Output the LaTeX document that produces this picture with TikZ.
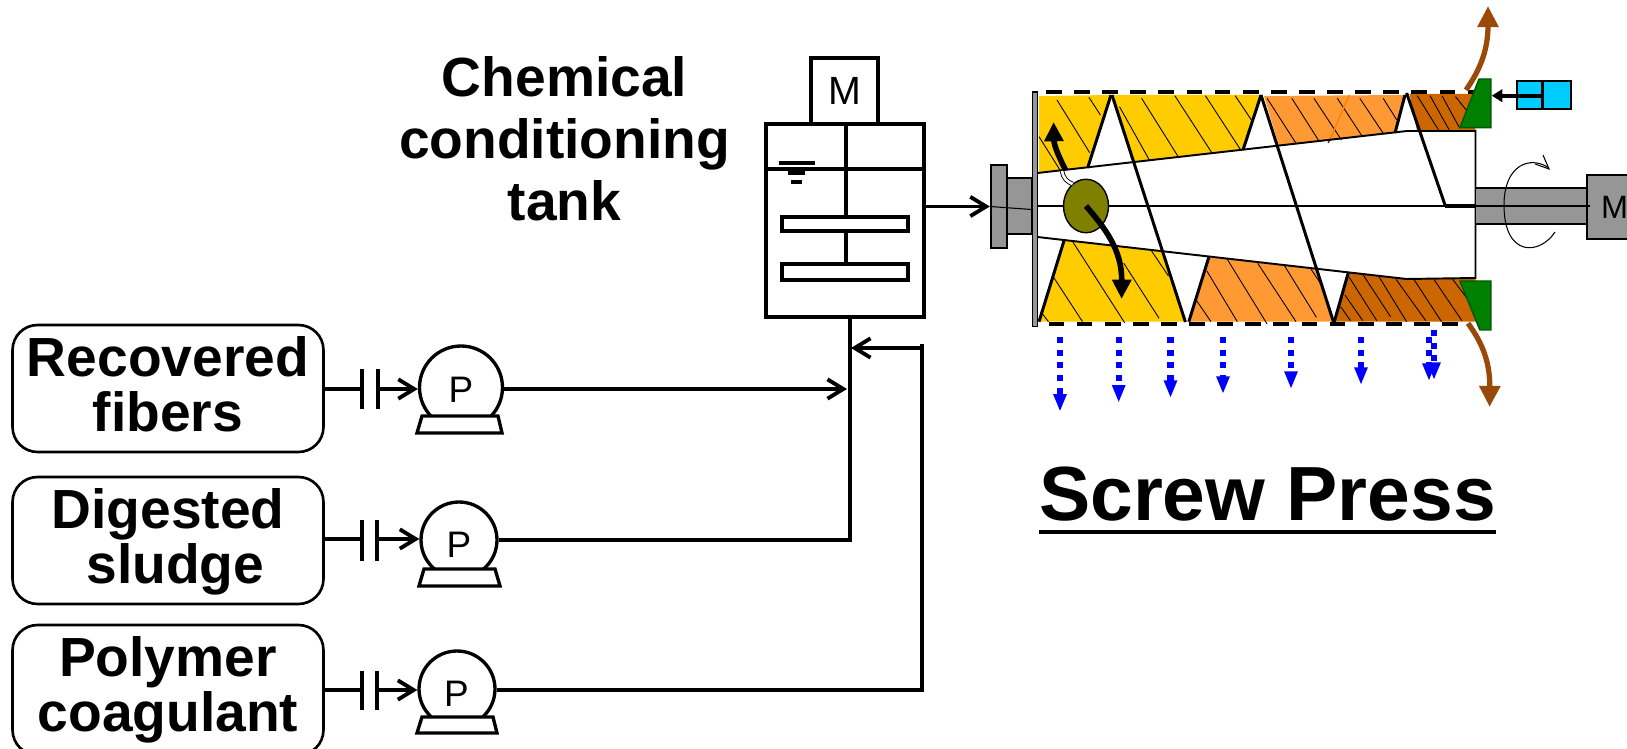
\documentclass[tikz,border=0pt]{standalone}
\usepackage{fontspec}
\setmainfont{Liberation Sans}
\usetikzlibrary{arrows.meta,shapes.geometric}

\definecolor{pressyellow}{HTML}{FFCC00}
\definecolor{pressorange}{HTML}{FF9933}
\definecolor{pressdark}{HTML}{CC6600}
\definecolor{pressgreen}{HTML}{008000}
\definecolor{presscyan}{HTML}{00CCFF}
\definecolor{pressgray}{HTML}{969696}
\definecolor{pressolive}{HTML}{808000}
\definecolor{pressbrown}{HTML}{99490A}

\tikzset{
  feedbox/.style={draw, line width=1.5pt, rounded corners=0.5cm, minimum width=6.22cm, minimum height=2.54cm, inner sep=0pt},
  feedlabel/.style={align=center, inner sep=0pt, font=\fontsize{31.4}{31.2}\selectfont\bfseries},
  pumpbody/.style={draw, circle, line width=1.9pt, inner sep=0pt},
  pumpletter/.style={inner sep=0pt, font=\fontsize{21}{21}\selectfont},
  pipe/.style={line width=2.2pt},
  openarrow/.style={-{Straight Barb[length=9pt,width=11pt,line width=2.2pt]}},
  vessel/.style={draw, line width=2.6pt, inner sep=0pt},
  metal/.style={draw, fill=pressgray, line width=1pt, inner sep=0pt},
  hatchline/.style={line width=0.5pt},
  flight/.style={line width=1.7pt},
  screen/.style={line width=2.3pt, dash pattern=on 9pt off 7pt},
  seep/.style={blue, line width=3.5pt, dash pattern=on 3.4pt off 3.8pt, -{Triangle[length=10pt,width=7pt]}},
  cake/.style={pressbrown, line width=3pt, -{Triangle[length=12pt,width=11.5pt]}},
  thickflow/.style={line width=3.2pt, -{Triangle[length=11pt,width=10.5pt]}}
}

\begin{document}
\begin{tikzpicture}[x=0.02cm, y=-0.02cm]
  \useasboundingbox (0,0) rectangle (1627,749);

  % Feed boxes
  \node[feedbox] (boxA) at (168,388.5) {};
  \node[feedbox] (boxB) at (168,540.5) {};
  \node[feedbox, minimum height=2.6cm] (boxC) at (168,690) {};
  \node[feedlabel] (labelA) at (168,384.3) {Recovered\\fibers};
  \node[feedlabel] (labelB) at (168,542) {Digested\\\hspace{0.29cm}sludge};
  \node[feedlabel] (labelC) at (168,690) {Polymer\\coagulant};

  % Pumps
  \node[pumpbody, minimum size=1.66cm] (pumpA) at (461,387.5) {};
  \node[pumpbody, minimum size=1.52cm] (pumpB) at (459,540) {};
  \node[pumpbody, minimum size=1.52cm] (pumpC) at (457,689) {};
  \node[pumpletter] (letterA) at (461,390) {P};
  \node[pumpletter] (letterB) at (459,545) {P};
  \node[pumpletter] (letterC) at (456.5,694) {P};
  \draw[line width=1.9pt, fill=white] (422,416) -- (498,416) -- (502,433) -- (417,433) -- cycle;
  \draw[line width=1.9pt, fill=white] (424,569) -- (495,569) -- (500,586) -- (419,586) -- cycle;
  \draw[line width=1.9pt, fill=white] (422,717) -- (493,717) -- (497,733) -- (417,733) -- cycle;

  % Valves on the feed lines
  \coordinate (valveA1) at (362,389);
  \coordinate (valveA2) at (378,389);
  \coordinate (valveB1) at (362,539);
  \coordinate (valveB2) at (377,539);
  \coordinate (valveC1) at (362,690);
  \coordinate (valveC2) at (377,690);
  \draw[pipe] (boxA.east |- valveA1) -- (valveA1);
  \draw[pipe] (boxB.east |- valveB1) -- (valveB1);
  \draw[pipe] (boxC.east |- valveC1) -- (valveC1);
  \draw[pipe, openarrow] (valveA2) -- (pumpA.west |- valveA2);
  \draw[pipe, openarrow] (valveB2) -- (pumpB.west |- valveB2);
  \draw[pipe, openarrow] (valveC2) -- (pumpC.west |- valveC2);
  \draw[line width=2.3pt] (362,369) -- (362,409) (378,369) -- (378,409);
  \draw[line width=2.3pt] (362,520) -- (362,561) (377,520) -- (377,561);
  \draw[line width=2.3pt] (362,671) -- (362,710) (377,671) -- (377,710);

  % Conditioning tank
  \node[vessel, minimum width=3.16cm, minimum height=3.86cm] (tank) at (845,220.5) {};
  \node[vessel, fill=white, minimum width=1.34cm, minimum height=1.32cm, font=\fontsize{22.4}{22.4}\selectfont] (motorA) at (844.5,91) {M};
  \node[align=center, inner sep=0pt, font=\fontsize{31.4}{35.3}\selectfont\bfseries] (tanklabel) at (564.5,139) {Chemical\\conditioning\\tank};
  \draw[vessel] (tank.west |- 0,169) -- (tank.east |- 0,169);
  \draw[vessel] (846,124) -- (846,263);
  \node[vessel, fill=white, minimum width=2.52cm, minimum height=0.28cm] (paddleA) at (845,224) {};
  \node[vessel, fill=white, minimum width=2.52cm, minimum height=0.32cm] (paddleB) at (845,272) {};
  \draw[line width=2.3pt] (779,163) -- (815,163) (788,173) -- (805,173) (791,182) -- (802,182);

  % Lines into the tank
  \coordinate (tankIn) at (850,317);
  \coordinate (feedA) at (847,389);
  \coordinate (feedC) at (851,348);
  \coordinate (polyTurn) at (922,344);
  \draw[pipe, openarrow] (pumpA.east |- feedA) -- (feedA);
  \draw[pipe] (pumpB.east) -| (tankIn);
  \draw[pipe] (pumpC.east |- valveC1) -| (polyTurn);
  \draw[pipe, openarrow] (feedC -| polyTurn) -- (feedC);

  % Press fills
  \fill[pressyellow] (1039,96) -- (1111,95) -- (1087.6,168) -- (1039,173) -- cycle;
  \fill[pressyellow] (1113,95) -- (1261,95) -- (1243,150) -- (1134.4,162) -- cycle;
  \fill[pressorange] (1264,96) -- (1405,95) -- (1395,133) -- (1279,146) -- cycle;
  \fill[pressdark] (1409.6,94) -- (1472.5,94) -- (1475.5,131) -- (1417,131) -- cycle;
  \fill[pressyellow] (1064,240.7) -- (1162.5,250.7) -- (1185.4,321.7) -- (1039,321.7) -- cycle;
  \fill[pressorange] (1208.8,257.3) -- (1315,269) -- (1333.5,321.7) -- (1188.8,321.7) -- cycle;
  \fill[pressdark] (1348.3,272.7) -- (1406.6,279) -- (1475.5,278) -- (1475.5,321.7) -- (1334.3,321.7) -- cycle;

  % Hatching
  \foreach \xa/\ya/\xb/\yb in {1088.9/97.3/1100.4/115, 1057/100/1089.7/152.7, 1039/136.7/1060/170,
    1119.5/106.7/1149.3/160, 1141.6/98.3/1178.2/156.7, 1174.8/95.7/1211.8/152.7, 1205.4/95.7/1240.7/150, 1235.2/95.7/1251.4/120,
    1267.1/98.3/1296/143.3, 1291.8/98.3/1319.4/141.7, 1313.9/98.3/1341.5/140, 1337.3/98.3/1362/136, 1359.8/98.3/1383.2/133.3, 1383.2/98.3/1396.8/120,
    1417.2/95.7/1438.5/130, 1430/95.7/1449.2/130, 1441.9/95.7/1459.8/128.3, 1455.5/96.7/1466.2/110,
    1040.8/311.7/1048.5/321.7, 1053.6/277.3/1082.5/321.7, 1072.7/241.7/1124.6/322.7, 1123.8/263.3/1159.1/318.3, 1151.4/250.7/1168.4/276,
    1196.1/300/1211/321.7, 1206.7/270.7/1237.3/321.7, 1227.1/259/1267.1/324, 1257.7/263.3/1296/321.7, 1284.5/265.7/1316.4/317.3, 1310.9/269/1321.5/285,
    1340.7/306.7/1350.5/320.7, 1344.9/295/1362.8/320.7, 1349.2/277.3/1376.8/320.7, 1363.2/275/1390.5/316.7, 1379/276.7/1406.6/321.7,
    1396/279.3/1425.8/320.7, 1414.3/280/1441.5/321.7, 1434.3/280/1461.9/320.7, 1452.6/279.3/1468.3/300}
    \draw[hatchline] (\xa,\ya) -- (\xb,\yb);
  \draw[orange, line width=0.8pt] (1349.2,95) -- (1330,140);
  \draw[hatchline] (1330,140) -- (1328,143);

  % Screw body
  \draw[line width=1.1pt] (1037.4,173) -- (1407,131) -- (1475.5,131) -- (1475.5,278) -- (1406.6,279) -- (1037.4,237);
  \draw[flight] (1112,95) -- (1185.4,322);
  \draw[flight] (1261,95) -- (1333.5,322);
  \draw[flight] (1406.6,93) -- (1445,205);
  \draw[flight] (1111,95) -- (1087.6,168);
  \draw[flight] (1261,95) -- (1243,150);
  \draw[flight] (1405,95) -- (1395,133);
  \draw[flight] (1064,240.7) -- (1039,321.7);
  \draw[flight] (1208.8,257.3) -- (1188.8,321.7);
  \draw[flight] (1348.3,272.7) -- (1334.3,321.7);

  % Shaft and motor
  \node[metal, minimum width=0.32cm, minimum height=1.66cm] (flange) at (998.7,206.5) {};
  \node[metal, minimum width=0.51cm, minimum height=1.12cm] (hub) at (1019.5,206) {};
  \node[draw, fill=pressgray, line width=0.6pt, inner sep=0pt, minimum width=0.1cm, minimum height=4.7cm] (plate) at (1034.8,209.5) {};
  \node[metal, minimum width=2.24cm, minimum height=0.72cm] (shaftR) at (1531.5,206) {};
  \node[metal, minimum width=1.1cm, minimum height=1.28cm, font=\fontsize{18.4}{18.4}\selectfont] (motorB) at (1614.5,207) {M};
  \draw[line width=0.6pt] (flange.west) -- (plate.west);
  \draw[line width=1.3pt] (plate.east |- shaftR) -- (shaftR.west);
  \draw[line width=2pt] (1445,206) -- (shaftR.west);
  \draw[line width=0.6pt] (shaftR.west) -- (1590,206);
  \draw[pipe, openarrow] (tank.east |- flange) -- (flange.west);

  % Rotation mark
  \draw[line width=0.6pt] (1555,232) .. controls (1540,255) and (1504,258) .. (1504,205) .. controls (1504,165) and (1530,155) .. (1549,168);
  \draw[line width=0.6pt] (1543,155) -- (1549,169) -- (1535,164);

  % Screens
  \draw[screen] (1046,92.3) -- (1475,92.3);
  \draw[screen] (1048.5,324.3) -- (1460,324.3);

  % Cone and actuator
  \draw[pressgreen!70!black, fill=pressgreen, line width=0.8pt] (1479,79) -- (1490.8,79) -- (1490.8,127.7) -- (1459.8,127.7) -- cycle;
  \draw[pressgreen!70!black, fill=pressgreen, line width=0.8pt] (1459.8,281) -- (1490.8,281) -- (1490.8,330) -- (1479.8,330) -- cycle;
  \node[draw, fill=presscyan, line width=1pt, inner sep=0pt, minimum width=1.07cm, minimum height=0.57cm] (cylinder) at (1544,95) {};
  \coordinate (coneTop) at (1491.7,95.7);
  \draw[line width=2pt] (1542.7,80.7) -- (1542.7,109.3);
  \draw[line width=2.4pt, -{Triangle[length=6pt,width=7pt]}] (1542.7,95.7) -- (coneTop);

  % Cake and filtrate
  \draw[cake] (1466,90) .. controls (1480,70) and (1488,50) .. (1488,6);
  \draw[cake] (1468,323.3) .. controls (1484,345) and (1490,365) .. (1489.6,407);
  \foreach \xpos/\ystart/\ytip in {1060/337/411.7, 1118.7/337/402.7, 1170.5/337/398, 1223/337/394, 1291/337/389, 1361/337/385, 1429/337/381, 1434/330/380}
    \draw[seep] (\xpos,\ystart) -- (\xpos,\ytip);

  % Feed ball and its flows
  \node[draw, fill=pressolive, ellipse, line width=0.8pt, inner sep=0pt, minimum width=0.9cm, minimum height=1.07cm] (feedball) at (1086,206) {};
  \draw[line width=0.5pt, double, double distance=1.5pt] (1062,171) .. controls (1063,178) and (1067,182) .. (1072.7,184);
  \draw[thickflow] (feedball.center) .. controls (1105,228) and (1122,250) .. (1121.6,299);
  \draw[thickflow] (1065.5,170) .. controls (1058,155) and (1054,145) .. (1053.6,122);

  % Title
  \node[anchor=base, inner xsep=0pt, font=\fontsize{43.7}{43.7}\selectfont\bfseries] (title) at (1267.5,521) {Screw Press};
  \draw[line width=2.3pt] ([yshift=-0.22cm]title.base west) -- ([yshift=-0.22cm]title.base east);
\end{tikzpicture}
\end{document}
